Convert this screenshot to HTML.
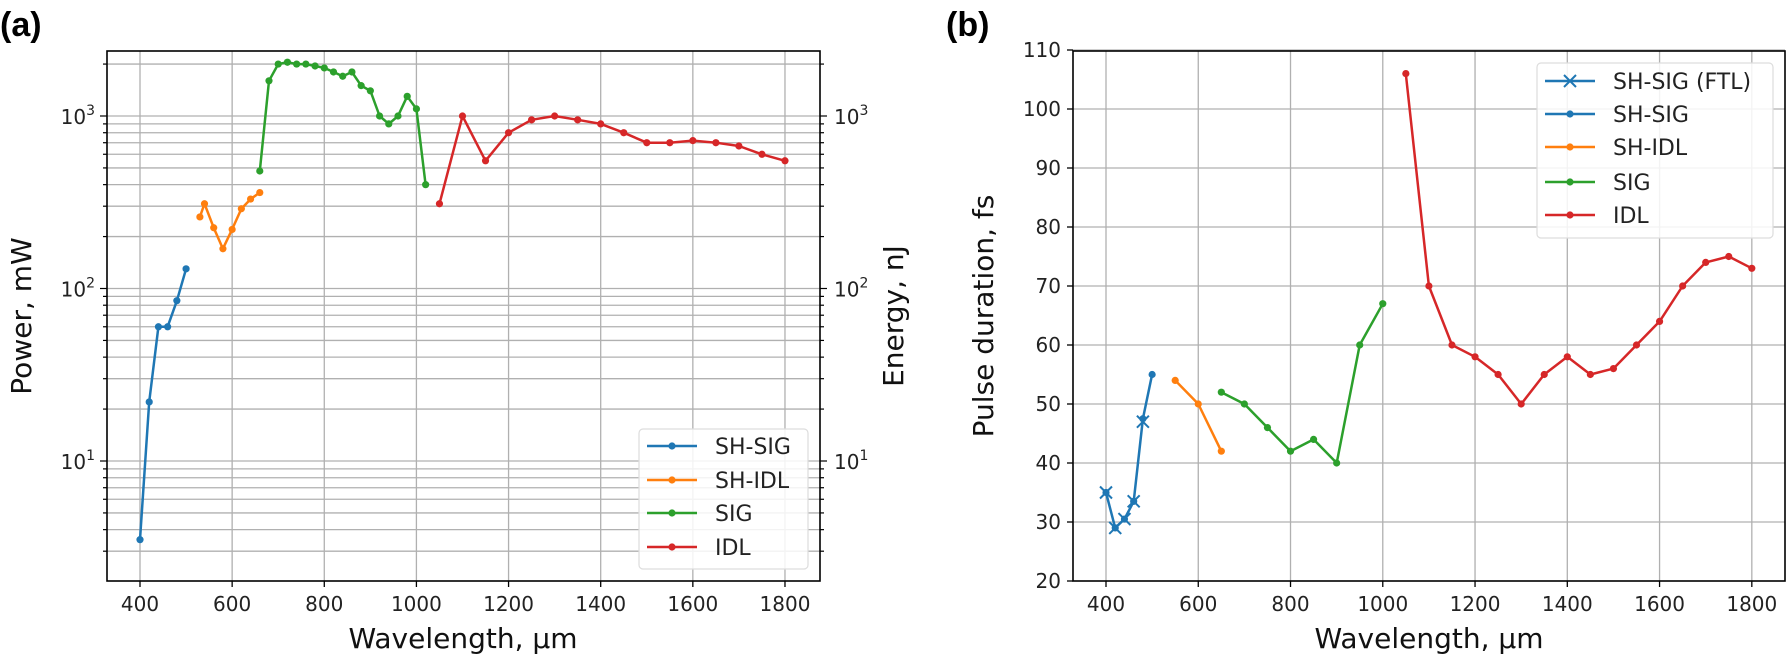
<!DOCTYPE html>
<html><head><meta charset="utf-8"><style>
body{margin:0;background:#fff;}
svg{display:block;font-family:"DejaVu Sans","Liberation Sans",sans-serif;}
</style></head><body>
<svg id="fig" width="1791" height="660" viewBox="0 0 1791 660" xmlns="http://www.w3.org/2000/svg">
<text x="0" y="36" font-size="34" font-weight="bold" font-family="Liberation Sans, sans-serif">(a)</text>
<text x="946" y="36" font-size="34" font-weight="bold" font-family="Liberation Sans, sans-serif">(b)</text>
<g id="pa"></g>
<g id="pb"></g>
</svg>
<script>
// Panel (a) data
const shSigX=[400,420,440,460,480,500];
const shSigP=[3.5,22,60,60,85,130];
const shIdlX=[530,540,560,580,600,620,640,660];
const shIdlP=[260,310,225,170,220,290,330,360];
const sigX=[660,680,700,720,740,760,780,800,820,840,860,880,900,920,940,960,980,1000,1020];
const sigP=[480,1600,2000,2050,2000,2000,1950,1900,1800,1700,1800,1500,1400,1000,900,1000,1300,1100,400];
const idlX=[1050,1100,1150,1200,1250,1300,1350,1400,1450,1500,1550,1600,1650,1700,1750,1800];
const idlP=[310,1000,550,800,950,1000,950,900,800,700,700,720,700,670,600,550];
// Panel (b) data
const ftlX=[400,420,440,460,480];
const ftlD=[35,29,30.5,33.5,47];
const bShSigX=[400,420,440,460,480,500];
const bShSigD=[35,29,30.5,33.5,47.5,55];
const bShIdlX=[550,600,650];
const bShIdlD=[54,50,42];
const bSigX=[650,700,750,800,850,900,950,1000];
const bSigD=[52,50,46,42,44,40,60,67];
const bIdlX=[1050,1100,1150,1200,1250,1300,1350,1400,1450,1500,1550,1600,1650,1700,1750,1800];
const bIdlD=[106,70,60,58,55,50,55,58,55,56,60,64,70,74,75,73];
const xTicks=[400,600,800,1000,1200,1400,1600,1800];
const bYTicks=[20,30,40,50,60,70,80,90,100,110];

const NS="http://www.w3.org/2000/svg";
const C={b:"#1f77b4",o:"#ff7f0e",g:"#2ca02c",r:"#d62728"};
function mk(p,t,a){const e=document.createElementNS(NS,t);for(const k in a)e.setAttribute(k,a[k]);p.appendChild(e);return e;}
const pa=document.getElementById('pa'), pb=document.getElementById('pb');

const aL=107,aR=820,aT=51,aB=581;
const xa=v=>140+(v-400)*0.4607;
const ya=v=>116-(Math.log10(v)-3)*172.5;
const bL=1073,bR=1785,bT=51,bB=581;
const xb=v=>1106+(v-400)*0.4613;
const yb=v=>581-(v-20)*5.9;

function grid(g,x,L,R,T,B){
  xTicks.forEach(t=>{const l=mk(g,'line',{x1:x(t),x2:x(t),y1:T,y2:B,stroke:'#b0b0b0','stroke-width':1.3});
  
  
  mk(g,'line',{x1:x(t),x2:x(t),y1:B,y2:B+6,stroke:'#000','stroke-width':1.3});
  const tx=mk(g,'text',{x:x(t),y:B+30,'font-size':20,'text-anchor':'middle',fill:'#222'});tx.textContent=t;
  
  });
}
grid(pa,xa,aL,aR,aT,aB);
grid(pb,xb,bL,bR,bT,bB);
for(let d=0;d<4;d++){for(let m=1;m<10;m++){const v=m*Math.pow(10,d);const y=ya(v);if(y<aT||y>aB)continue;
  const l=mk(pa,'line',{x1:aL,x2:aR,y1:y,y2:y,stroke:'#b0b0b0','stroke-width':1.3});
  
  
  const len=m==1?7:4;
  mk(pa,'line',{x1:aL-len,x2:aL,y1:y,y2:y,stroke:'#000','stroke-width':1.2});
  mk(pa,'line',{x1:aR,x2:aR+len,y1:y,y2:y,stroke:'#000','stroke-width':1.2});
  if(m==1){[[aL-12,'end'],[aR+14,'start']].forEach(([xx,an])=>{
    const t=mk(pa,'text',{x:xx,y:y+8,'font-size':20,'text-anchor':an,fill:'#222'});
    t.innerHTML='10<tspan dy="-9" font-size="14">'+d+'</tspan>';
    
    });}
}}
bYTicks.forEach(v=>{const y=yb(v);
  if(v>20){const l=mk(pb,'line',{x1:bL,x2:bR,y1:y,y2:y,stroke:'#b0b0b0','stroke-width':1.3});
  
  }
  mk(pb,'line',{x1:bL-6,x2:bL,y1:y,y2:y,stroke:'#000','stroke-width':1.3});
  const t=mk(pb,'text',{x:bL-12,y:y+7,'font-size':20,'text-anchor':'end',fill:'#222'});t.textContent=v;
  
  });

function series(g,xs,ys,x,y,col,name,dots){
  const pts=xs.map((v,i)=>x(v).toFixed(1)+','+y(ys[i]).toFixed(1)).join(' ');
  const pl=mk(g,'polyline',{points:pts,fill:'none',stroke:col,'stroke-width':2.5,'stroke-linejoin':'round'});
  
  
  if(dots)xs.forEach((v,i)=>{const c=mk(g,'circle',{cx:x(v),cy:y(ys[i]),r:3.6,fill:col});
    
    });
}
series(pa,shSigX,shSigP,xa,ya,C.b,'sh-sig',1);
series(pa,shIdlX,shIdlP,xa,ya,C.o,'sh-idl',1);
series(pa,sigX,sigP,xa,ya,C.g,'sig',1);
series(pa,idlX,idlP,xa,ya,C.r,'idl',1);
series(pb,bShSigX,bShSigD,xb,yb,C.b,'sh-sig',1);
ftlX.forEach((v,i)=>{const cx=xb(v),cy=yb(ftlD[i]);
  const p=mk(pb,'path',{d:`M${cx-6},${cy-6}L${cx+6},${cy+6}M${cx-6},${cy+6}L${cx+6},${cy-6}`,stroke:C.b,'stroke-width':2});
  
  });
series(pb,bShIdlX,bShIdlD,xb,yb,C.o,'sh-idl',1);
series(pb,bSigX,bSigD,xb,yb,C.g,'sig',1);
series(pb,bIdlX,bIdlD,xb,yb,C.r,'idl',1);

mk(pa,'rect',{x:aL,y:aT,width:aR-aL,height:aB-aT,fill:'none',stroke:'#000','stroke-width':1.6});
mk(pb,'rect',{x:bL,y:bT,width:bR-bL,height:bB-bT,fill:'none',stroke:'#000','stroke-width':1.6});

function title(g,txt,x,y,rot,name){const t=mk(g,'text',{x:x,y:y,'font-size':28,'text-anchor':'middle',fill:'#111'});
  if(rot)t.setAttribute('transform',`rotate(-90 ${x} ${y})`);t.textContent=txt;
  
  }
title(pa,'Wavelength, µm',463,648,0,'x-axis-title');
title(pa,'Power, mW',31,316,1,'y-axis-title');
title(pa,'Energy, nJ',903,316,1,'y2-axis-title');
title(pb,'Wavelength, µm',1429,648,0,'x-axis-title');
title(pb,'Pulse duration, fs',993,316,1,'y-axis-title');

function legend(g,x0,y0,w,h,items,rows,tx){
  const r=mk(g,'rect',{x:x0,y:y0,width:w,height:h,rx:4,fill:'#fff','fill-opacity':0.85,stroke:'#ddd','stroke-width':1.2});
  
  
  items.forEach((it,i)=>{const y=rows[i];
    mk(g,'line',{x1:x0+8,x2:x0+58,y1:y,y2:y,stroke:it[1],'stroke-width':2.5});
    if(it[2]=='x')mk(g,'path',{d:`M${x0+27},${y-6}L${x0+39},${y+6}M${x0+27},${y+6}L${x0+39},${y-6}`,stroke:it[1],'stroke-width':2});
    else mk(g,'circle',{cx:x0+33,cy:y,r:3.6,fill:it[1]});
    const t=mk(g,'text',{x:tx,y:y+8,'font-size':22,fill:'#222'});t.textContent=it[0];
    
    });
}
legend(pa,639,429,169,140,[['SH-SIG',C.b],['SH-IDL',C.o],['SIG',C.g],['IDL',C.r]],[446,480,513,547],715);
legend(pb,1537,63,236,175,[['SH-SIG (FTL)',C.b,'x'],['SH-SIG',C.b],['SH-IDL',C.o],['SIG',C.g],['IDL',C.r]],[81,114,147,182,215],1613);
</script>
</body></html>
